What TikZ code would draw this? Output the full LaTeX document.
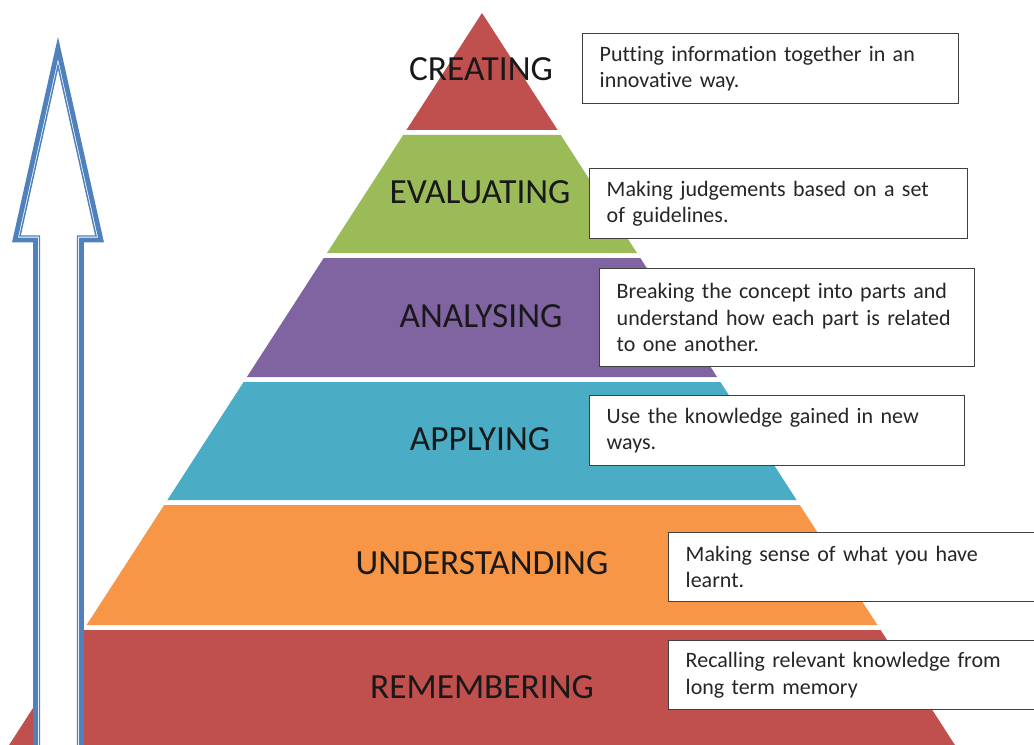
\documentclass[tikz,border=0pt]{standalone}
\usepackage{fontspec}
\setmainfont{Carlito}[Ligatures=NoCommon]
\newfontfamily\descfont{Carlito}[Ligatures=NoCommon, WordSpace=0.75]
\hyphenpenalty=10000
\definecolor{lvlred}{HTML}{C0504D}
\definecolor{lvlgreen}{HTML}{9BBB59}
\definecolor{lvlpurple}{HTML}{8064A2}
\definecolor{lvlaqua}{HTML}{4BACC6}
\definecolor{lvlorange}{HTML}{F79646}
\definecolor{arrowblue}{HTML}{4F81BD}
\tikzset{
  lvltext/.style={font=\fontsize{26.5}{30}\selectfont, text=black!90},
  descbox/.style={draw=black!75, line width=1.1pt, fill=white, anchor=north west,
    align=left, inner xsep=12.75pt, inner ysep=0pt, minimum height=52.5pt,
    font=\descfont\fontsize{16.5}{19.8}\selectfont, text=black!85},
}

\begin{document}
\begin{tikzpicture}[x=0.75pt, y=-0.75pt]
\useasboundingbox (0,0) rectangle (1034,745);
\clip (0,0) rectangle (1034,745);

% pyramid levels
\fill[lvlred] (482,13) -- (557.6,130) -- (406.4,130) -- cycle;
\fill[lvlgreen] (403.2,135) -- (560.8,135) -- (637,253) -- (327,253) -- cycle;
\fill[lvlpurple] (323.7,258) -- (640.3,258) -- (717.1,377) -- (246.9,377) -- cycle;
\fill[lvlaqua] (243.6,382) -- (720.4,382) -- (796.6,500) -- (167.4,500) -- cycle;
\fill[lvlorange] (164.2,505) -- (799.8,505) -- (877.4,625) -- (86.6,625) -- cycle;
\fill[lvlred] (83.4,630) -- (880.6,630) -- (964.6,760) -- (-0.6,760) -- cycle;

% level names
\node[lvltext] (creating) at (481,69) {CREATING};
\node[lvltext] (evaluating) at (480,192) {EVALUATING};
\node[lvltext] (analysing) at (481,316) {ANALYSING};
\node[lvltext] (applying) at (480,439) {APPLYING};
\node[lvltext] (understanding) at (482,563) {UNDERSTANDING};
\node[lvltext] (remembering) at (482,687) {REMEMBERING};

% big arrow
\draw[arrowblue, line width=3.6pt, fill=white, miter limit=10]
  (58,48) -- (101,240) -- (81.5,240) -- (81.5,770) -- (35.5,770) -- (35.5,240) -- (15,240) -- cycle;
\draw[arrowblue, line width=1.1pt]
  (58,66) -- (96,236) -- (77.5,236) -- (77.5,770) -- (39.5,770) -- (39.5,236) -- (20,236) -- cycle;

% descriptions
\node[descbox, text width=256.5pt] (creatingtxt) at (582,33)
  {Putting information together in an\\innovative way.};
\node[descbox, text width=258pt] (evaluatingtxt) at (589,168)
  {Making judgements based on a set\\of guidelines.};
\node[descbox, text width=255.75pt, minimum height=73.5pt] (analysingtxt) at (599,268)
  {Breaking the concept into parts and\\understand how each part is related\\to one another.};
\node[descbox, text width=255.75pt] (applyingtxt) at (589,395)
  {Use the knowledge gained in new\\ways.};
\node[descbox, text width=270pt, minimum height=51.75pt] (understandingtxt) at (668,532)
  {Making sense of what you have\\learnt.};
\node[descbox, text width=270pt, minimum height=51.75pt] (rememberingtxt) at (668,640)
  {Recalling relevant knowledge from\\long term memory};
\end{tikzpicture}
\end{document}
